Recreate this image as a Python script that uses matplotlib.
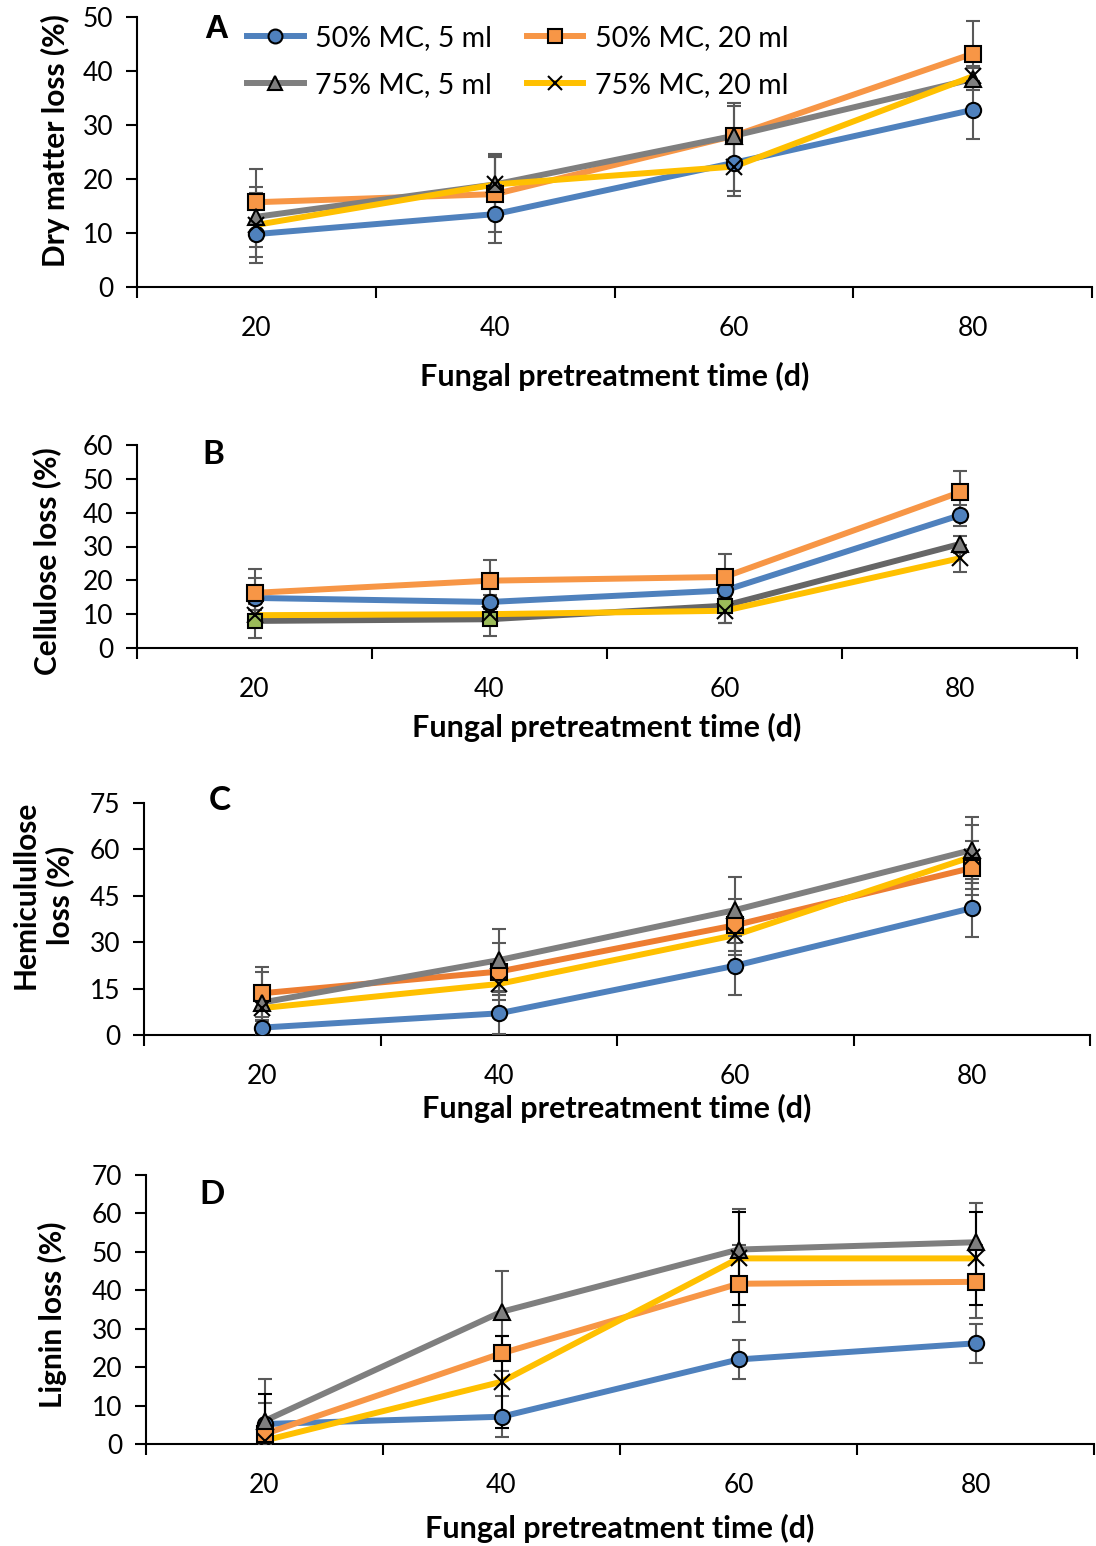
import matplotlib.pyplot as plt
import numpy as np

plt.rcParams['font.family'] = ['Lato', 'DejaVu Sans']

days = ['20', '40', '60', '80']
series_names = ['50% MC, 5 ml', '50% MC, 20 ml', '75% MC, 5 ml', '75% MC, 20 ml']

# A - dry matter loss
dm_50_5 = [9.8, 13.5, 23.0, 32.8]
dm_50_20 = [15.7, 17.2, 28.0, 43.2]
dm_75_5 = [13.0, 19.0, 28.0, 38.5]
dm_75_20 = [11.5, 19.0, 22.3, 39.0]
dm_50_5_err = [5.3, 5.3, 5.3, 5.3]
dm_50_20_err = [6.2, 7.0, 5.5, 6.1]
dm_75_5_err = [5.5, 5.7, 6.0, 2.0]
dm_75_20_err = [6.0, 5.0, 5.5, 2.0]

# B - cellulose loss
cel_50_5 = [14.8, 13.6, 17.0, 39.2]
cel_50_20 = [16.3, 19.9, 21.0, 46.0]
cel_75_5 = [8.0, 8.5, 12.5, 30.7]
cel_75_20 = [9.7, 10.0, 11.0, 26.5]
cel_50_5_err = [6.0, 2.0, 2.0, 3.0]
cel_50_20_err = [7.0, 6.1, 6.9, 6.3]
cel_75_5_err = [5.0, 5.0, 5.0, 2.5]
cel_75_20_err = [1.5, 2.0, 3.6, 4.0]

# C - hemicellulose loss
hem_50_5 = [2.4, 7.0, 22.4, 41.0]
hem_50_20 = [13.5, 20.5, 35.5, 54.0]
hem_75_5 = [10.5, 24.2, 40.4, 59.8]
hem_75_20 = [8.7, 16.5, 32.3, 57.6]
hem_50_5_err = [2.0, 6.8, 9.5, 9.3]
hem_50_20_err = [8.5, 9.3, 8.4, 8.7]
hem_75_5_err = [10.0, 10.0, 10.7, 10.7]
hem_75_20_err = [3.0, 3.5, 6.5, 10.4]

# D - lignin loss
lig_50_5 = [5.2, 7.1, 22.0, 26.2]
lig_50_20 = [2.6, 23.6, 41.7, 42.2]
lig_75_5 = [6.0, 34.4, 50.6, 52.5]
lig_75_20 = [0.9, 16.2, 48.3, 48.3]
lig_50_5_err = [5.5, 5.4, 5.0, 5.0]
lig_50_20_err = [2.0, 4.5, 10.0, 9.5]
lig_75_5_err = [11.0, 10.7, 10.6, 10.3]
lig_75_20_err = [12.0, 12.0, 12.0, 12.0]

W, H = 1096, 1546
fig = plt.figure(figsize=(W / 100, H / 100), dpi=100)


def px_rect(left, right, top, bottom):
    return [left / W, 1 - bottom / H, (right - left) / W, (bottom - top) / H]


def fx(x):
    return x / W


def fy(y):
    return 1 - y / H


blue = '#4F81BD'
orange = '#F79646'
gray = '#7F7F7F'
yellow = '#FFC000'
ecol = '#595959'

panels = [
    dict(rect=px_rect(137, 1092, 17, 287), ylim=50, step=10, letter='A',
         data=[dm_50_5, dm_50_20, dm_75_5, dm_75_20],
         err=[dm_50_5_err, dm_50_20_err, dm_75_5_err, dm_75_20_err],
         ylabel='Dry matter loss (%)', ylab_xy=(55, 141), xlab_y=376),
    dict(rect=px_rect(137, 1077, 445, 648), ylim=60, step=10, letter='B',
         data=[cel_50_5, cel_50_20, cel_75_5, cel_75_20],
         err=[cel_50_5_err, cel_50_20_err, cel_75_5_err, cel_75_20_err],
         ylabel='Cellulose loss (%)', ylab_xy=(47, 561), xlab_y=727),
    dict(rect=px_rect(144, 1090, 803, 1035), ylim=75, step=15, letter='C',
         data=[hem_50_5, hem_50_20, hem_75_5, hem_75_20],
         err=[hem_50_5_err, hem_50_20_err, hem_75_5_err, hem_75_20_err],
         ylabel='Hemiculullose\nloss (%)', ylab_xy=(43, 895), xlab_y=1108),
    dict(rect=px_rect(146, 1094, 1175, 1444), ylim=70, step=10, letter='D',
         data=[lig_50_5, lig_50_20, lig_75_5, lig_75_20],
         err=[lig_50_5_err, lig_50_20_err, lig_75_5_err, lig_75_20_err],
         ylabel='Lignin loss (%)', ylab_xy=(52, 1315), xlab_y=1528),
]

x = np.arange(len(days))
for i, p in enumerate(panels):
    ax = fig.add_axes(p['rect'])
    colors = [blue, orange, gray, yellow]
    if p['letter'] == 'C':
        colors[1] = '#ED7D31'
    styles = [
        dict(marker='o', mfc=blue, mec='black'),
        dict(marker='s', mfc=orange, mec='black'),
        dict(marker='^', mfc=gray, mec='black'),
        dict(marker='x', mfc='black', mec='black'),
    ]
    handles = []
    for k in range(4):
        y = p['data'][k]
        lc = colors[k]
        if p['letter'] == 'B' and k == 2:
            lc = '#666666'
        ec = 'black' if (p['letter'] == 'D' and k == 3) else ecol
        ax.errorbar(x, y, yerr=p['err'][k], fmt='none', ecolor=ec,
                    elinewidth=1.5, capsize=5, capthick=1.5, zorder=3.5)
        ax.plot(x, y, color=lc, lw=4.3, solid_capstyle='round', zorder=3)
        if p['letter'] == 'B' and k == 2:
            ax.plot(x[:3], y[:3], ls='none', marker='s', ms=10.5,
                    mfc='#9BBB59', mec='black', mew=1.5, zorder=4)
            ax.plot(x[3:], y[3:], ls='none', ms=11, mew=1.5, zorder=4,
                    **styles[k])
        else:
            ax.plot(x, y, ls='none', ms=11, mew=1.5, zorder=4, **styles[k])
        h, = ax.plot([], [], color=colors[k], lw=4.3, ms=10, mew=1.5,
                     **styles[k])
        handles.append(h)

    ax.set_xlim(-0.5, 3.5)
    ax.set_ylim(0, p['ylim'])
    ax.set_yticks(np.arange(0, p['ylim'] + 1, p['step']))
    ax.set_xticks(np.arange(-0.5, 4, 1))
    ax.set_xticklabels([])
    ax.set_xticks(x, minor=True)
    ax.set_xticklabels(days, minor=True)
    ax.tick_params(axis='x', which='major', direction='out', length=8,
                   width=1.5)
    ax.tick_params(axis='x', which='minor', length=0, pad=21, labelsize=19)
    ax.tick_params(axis='y', direction='out', length=8, width=1.5,
                   labelsize=19, pad=9)
    for s in ['top', 'right']:
        ax.spines[s].set_visible(False)
    for s in ['left', 'bottom']:
        ax.spines[s].set_linewidth(1.5)

    cx = (p['rect'][0] + p['rect'][2] / 2)
    fig.text(cx, fy(p['xlab_y']), 'Fungal pretreatment time (d)',
             ha='center', va='center', fontsize=22, fontweight='bold')
    fig.text(fx(p['ylab_xy'][0]), fy(p['ylab_xy'][1]), p['ylabel'],
             rotation=90, ha='center', va='center', fontsize=21.5,
             fontweight='bold', multialignment='center', linespacing=1.25)

    if p['letter'] == 'A':
        fig.text(fx(216), fy(30), 'A', ha='center', va='center',
                 fontsize=24, fontweight='bold',
                 family=['Liberation Sans', 'DejaVu Sans'])
        order = [0, 2, 1, 3]
        ax.legend([handles[j] for j in order],
                  [series_names[j] for j in order], ncol=2,
                  loc='upper left', bbox_to_anchor=(fx(247), fy(25)),
                  bbox_transform=fig.transFigure, frameon=False,
                  fontsize=20.5, handlelength=2.0, handletextpad=0.4,
                  columnspacing=1.2, labelspacing=0.75, borderpad=0,
                  borderaxespad=0)
    else:
        pos = {'B': (213, 455), 'C': (220, 800), 'D': (212, 1195)}
        fig.text(fx(pos[p['letter']][0]), fy(pos[p['letter']][1]),
                 p['letter'], ha='center', va='center', fontsize=24,
                 fontweight='bold')

plt.savefig('out.png', dpi=100)
